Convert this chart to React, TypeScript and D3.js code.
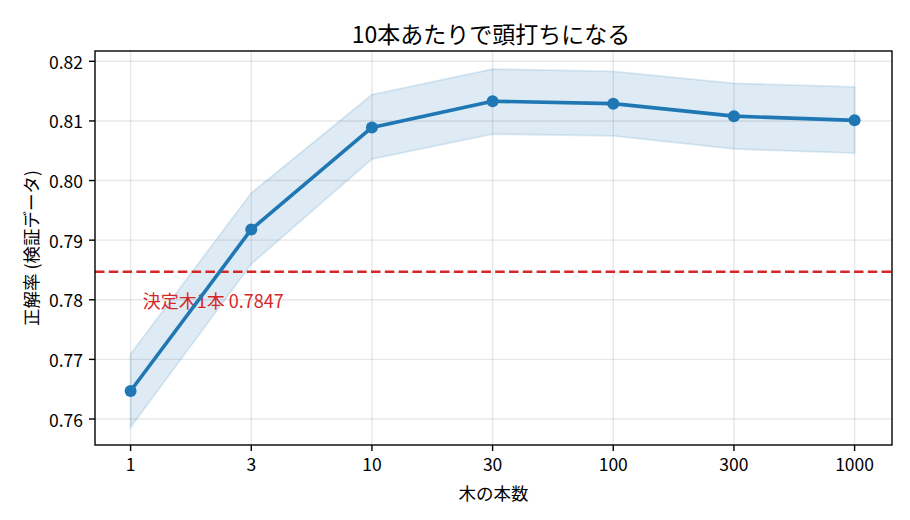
import React, { useEffect, useRef } from 'react';
import * as d3 from 'd3';

const treeCounts = ['1', '3', '10', '30', '100', '300', '1000'];
const meanAcc = [0.7647, 0.7918, 0.8089, 0.8133, 0.8129, 0.8108, 0.8101];
const upperAcc = [0.7709, 0.7979, 0.8144, 0.8187, 0.8183, 0.8163, 0.8157];
const lowerAcc = [0.7586, 0.786, 0.8036, 0.8078, 0.8075, 0.8053, 0.8046];
const yTicks = [0.76, 0.77, 0.78, 0.79, 0.8, 0.81, 0.82];
const baseline = 0.7847;
const baselineLabel = '決定木1本 0.7847';

export default function App() {
  const svgRef = useRef<SVGSVGElement>(null);

  useEffect(() => {
    if (!svgRef.current) return;
    const svg = d3.select(svgRef.current);
    svg.selectAll('*').remove();

    const width = 910;
    const height = 520;
    const margin = { top: 51, right: 18, bottom: 75, left: 95 };
    const innerWidth = width - margin.left - margin.right;
    const innerHeight = height - margin.top - margin.bottom;
    const font = "'Noto Sans CJK JP', 'Noto Sans', sans-serif";

    svg.attr('width', width).attr('height', height).style('font-family', font);
    svg.append('rect').attr('width', width).attr('height', height).attr('fill', '#fff');

    const g = svg.append('g').attr('transform', `translate(${margin.left},${margin.top})`);

    // category index scale with matplotlib-like margins
    const xScale = d3.scaleLinear().domain([-0.295, 6.31]).range([0, innerWidth]);
    const yScale = d3.scaleLinear().domain([0.75564, 0.82173]).range([innerHeight, 0]);

    // grid
    treeCounts.forEach((_, i) => {
      g.append('line')
        .attr('x1', xScale(i)).attr('x2', xScale(i))
        .attr('y1', 0).attr('y2', innerHeight)
        .attr('stroke', '#b0b0b0').attr('stroke-opacity', 0.3).attr('stroke-width', 1.4);
    });
    yTicks.forEach((t) => {
      g.append('line')
        .attr('x1', 0).attr('x2', innerWidth)
        .attr('y1', yScale(t)).attr('y2', yScale(t))
        .attr('stroke', '#b0b0b0').attr('stroke-opacity', 0.3).attr('stroke-width', 1.4);
    });

    // band
    const area = d3
      .area<number>()
      .x((_, i) => xScale(i))
      .y0((_, i) => yScale(lowerAcc[i]))
      .y1((d) => yScale(d));
    g.append('path')
      .datum(upperAcc)
      .attr('d', area)
      .attr('fill', '#1f77b4')
      .attr('fill-opacity', 0.15)
      .attr('stroke', '#1f77b4')
      .attr('stroke-opacity', 0.15)
      .attr('stroke-width', 1.8);

    // baseline
    g.append('line')
      .attr('x1', 0).attr('x2', innerWidth)
      .attr('y1', yScale(baseline)).attr('y2', yScale(baseline))
      .attr('stroke', '#d62728')
      .attr('stroke-width', 2.5)
      .attr('stroke-dasharray', '9.5,4.3');

    g.append('text')
      .attr('x', xScale(0.1))
      .attr('y', yScale(baseline - 0.006))
      .attr('fill', '#d62728')
      .attr('font-size', '18px')
      .text(baselineLabel);

    // mean line
    const line = d3
      .line<number>()
      .x((_, i) => xScale(i))
      .y((d) => yScale(d));
    g.append('path')
      .datum(meanAcc)
      .attr('d', line)
      .attr('fill', 'none')
      .attr('stroke', '#1f77b4')
      .attr('stroke-width', 3.6)
      .attr('stroke-linejoin', 'round');

    g.selectAll('circle.pt')
      .data(meanAcc)
      .enter()
      .append('circle')
      .attr('class', 'pt')
      .attr('cx', (_, i) => xScale(i))
      .attr('cy', (d) => yScale(d))
      .attr('r', 6)
      .attr('fill', '#1f77b4');

    // frame
    g.append('rect')
      .attr('width', innerWidth)
      .attr('height', innerHeight)
      .attr('fill', 'none')
      .attr('stroke', '#000')
      .attr('stroke-width', 1.4);

    // x ticks
    treeCounts.forEach((c, i) => {
      g.append('line')
        .attr('x1', xScale(i)).attr('x2', xScale(i))
        .attr('y1', innerHeight).attr('y2', innerHeight + 6)
        .attr('stroke', '#000').attr('stroke-width', 1.4);
      g.append('text')
        .attr('x', xScale(i))
        .attr('y', innerHeight + 13)
        .attr('dy', '0.75em')
        .attr('text-anchor', 'middle')
        .attr('font-size', '17.5px')
        .attr('fill', '#000')
        .text(c);
    });

    // y ticks
    yTicks.forEach((t) => {
      g.append('line')
        .attr('x1', -6).attr('x2', 0)
        .attr('y1', yScale(t)).attr('y2', yScale(t))
        .attr('stroke', '#000').attr('stroke-width', 1.4);
      g.append('text')
        .attr('x', -12)
        .attr('y', yScale(t))
        .attr('dominant-baseline', 'central')
        .attr('text-anchor', 'end')
        .attr('font-size', '17.5px')
        .attr('fill', '#000')
        .text(t.toFixed(2));
    });

    // axis labels
    g.append('text')
      .attr('x', innerWidth / 2)
      .attr('y', innerHeight + 47)
      .attr('dominant-baseline', 'central')
      .attr('text-anchor', 'middle')
      .attr('font-size', '17.5px')
      .attr('fill', '#000')
      .text('木の本数');

    svg.append('text')
      .attr('transform', `translate(30,${margin.top + innerHeight / 2}) rotate(-90)`)
      .attr('dominant-baseline', 'central')
      .attr('text-anchor', 'middle')
      .attr('font-size', '17.5px')
      .attr('fill', '#000')
      .text('正解率 (検証データ)');

    // title
    svg.append('text')
      .attr('x', 491)
      .attr('y', 32.5)
      .attr('dominant-baseline', 'central')
      .attr('text-anchor', 'middle')
      .attr('font-size', '23px')
      .attr('fill', '#000')
      .text('10本あたりで頭打ちになる');
  }, []);

  return <svg ref={svgRef} style={{ position: 'absolute', left: 0, top: 0 }}></svg>;
}
